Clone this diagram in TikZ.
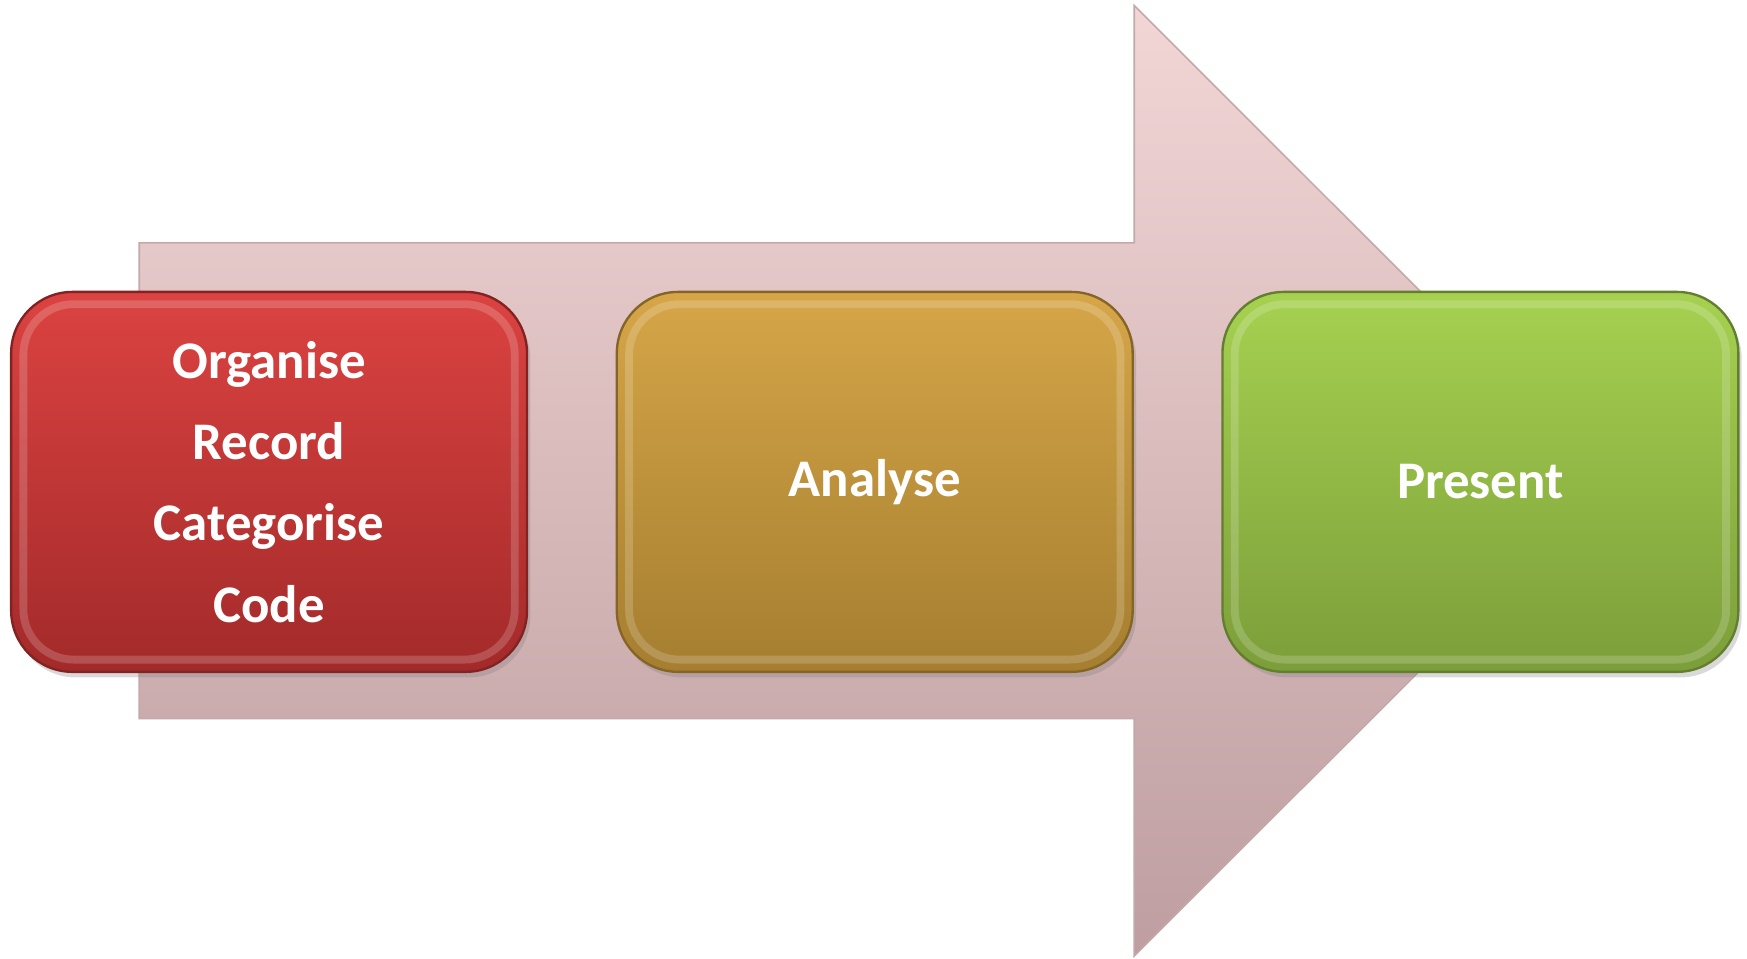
\documentclass[tikz,border=0pt]{standalone}
\usepackage{fontspec}
\setmainfont{Carlito}
\usetikzlibrary{positioning, shadows}

\definecolor{redtop}{RGB}{219,67,65}
\definecolor{redbot}{RGB}{163,42,42}
\definecolor{orangetop}{RGB}{214,166,72}
\definecolor{orangebot}{RGB}{165,126,48}
\definecolor{greentop}{RGB}{166,209,80}
\definecolor{greenbot}{RGB}{124,158,58}
\definecolor{arrowtop}{RGB}{242,214,214}
\definecolor{arrowbot}{RGB}{190,158,160}

\tikzset{
	stage/.style={rounded corners=0.55cm, minimum width=4.63cm, minimum height=3.41cm,
		text=white, align=center, line width=0.6pt,
		font=\bfseries\fontsize{13.5}{20.8}\selectfont,
		drop shadow={opacity=0.3, shadow xshift=0.03cm, shadow yshift=-0.05cm},
		path picture={\draw[white, opacity=0.18, line width=2pt, rounded corners=0.45cm]
			([shift={(0.11,-0.11)}]path picture bounding box.north west) rectangle
			([shift={(-0.11,0.11)}]path picture bounding box.south east);}},
	stagecolor/.style={draw=#1bot!80!black, top color=#1top, bottom color=#1bot}
}

\begin{document}
\begin{tikzpicture}[node distance=0.785cm]
			\useasboundingbox (0,0) rectangle (15.68,-8.6);

			\shade[top color=arrowtop, bottom color=arrowbot, draw=arrowbot!90!white, line width=0.4pt]
				(1.25,-2.18) -- (10.18,-2.18) -- (10.18,-0.05) -- (14.45,-4.315)
				-- (10.18,-8.58) -- (10.18,-6.45) -- (1.25,-6.45) -- cycle;

			\node [stage, stagecolor=red] (organise) at (2.415,-4.325) {Organise\\Record\\Categorise\\Code};
			\node [stage, stagecolor=orange, right=of organise] (analyse) {Analyse};
			\node [stage, stagecolor=green, right=of analyse] (present) {Present};
		\end{tikzpicture}
\end{document}
